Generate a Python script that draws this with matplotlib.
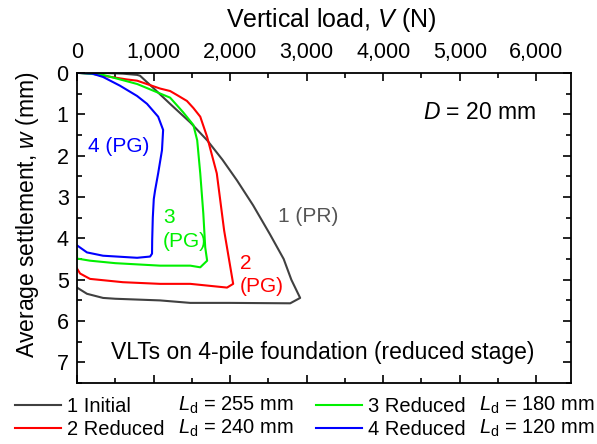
import matplotlib
matplotlib.use("Agg")
import matplotlib.pyplot as plt
from matplotlib.ticker import MultipleLocator, FuncFormatter

plt.rcParams['font.family'] = ['Liberation Sans', 'DejaVu Sans']
plt.rcParams['mathtext.fontset'] = 'custom'
plt.rcParams['mathtext.rm'] = 'Liberation Sans'
plt.rcParams['mathtext.it'] = 'Liberation Sans:italic'

# load-settlement loops (V in N, w in mm)
v_initial = [0, 300, 600, 785, 823, 993, 1216, 1480, 1700, 1900, 2090, 2300, 2520, 2700, 2800, 2915,
             2785, 2000, 1480, 1085, 500, 340, 130, 0]
w_initial = [0, 0, 0.02, 0.05, 0.07, 0.36, 0.75, 1.2, 1.63, 2.1, 2.6, 3.2, 3.9, 4.5, 5.0, 5.44,
             5.57, 5.56, 5.56, 5.5, 5.46, 5.44, 5.34, 5.19]

v_red240 = [0, 200, 340, 650, 785, 1085, 1216, 1300, 1436, 1520, 1610, 1700, 1826, 1922, 2040,
            1960, 1480, 1085, 600, 170, 40, 0]
w_red240 = [0, 0.02, 0.07, 0.16, 0.19, 0.38, 0.44, 0.53, 0.68, 0.85, 1.06, 1.55, 2.43, 3.81, 5.1,
            5.19, 5.1, 5.1, 5.06, 4.98, 4.85, 4.73]

v_red180 = [0, 340, 785, 1216, 1385, 1520, 1570, 1610, 1650, 1675, 1700,
            1610, 1480, 1085, 500, 170, 40, 0, 0]
w_red180 = [0, 0.05, 0.27, 0.6, 0.95, 1.26, 1.63, 2.43, 3.4, 4.22, 4.54,
            4.7, 4.66, 4.66, 4.6, 4.54, 4.5, 4.49, 4.3]

v_red120 = [0, 200, 340, 560, 785, 915, 1060, 1125, 1110, 1060, 1020, 1003, 990, 982, 980,
            955, 785, 340, 130, 0]
w_red120 = [0, 0.02, 0.1, 0.31, 0.56, 0.75, 1.06, 1.38, 1.87, 2.43, 2.84, 3.05, 3.5, 4.05, 4.37,
            4.44, 4.47, 4.42, 4.34, 4.17]

names = ['1 Initial', '2 Reduced', '3 Reduced', '4 Reduced']
lengths = [255, 240, 180, 120]
colors = ['#404040', '#ff0000', '#00f000', '#0000ff']

fig = plt.figure(figsize=(5.97, 4.44), dpi=100)
ax = fig.add_axes([0.129, 0.137, 0.827, 0.699])

series = [(v_initial, w_initial), (v_red240, w_red240), (v_red180, w_red180), (v_red120, w_red120)]
lines = []
for (v, w), c, n in zip(series, colors, names):
    ln, = ax.plot(v, w, color=c, lw=1.5, label=n)
    lines.append(ln)

ax.set_xlim(0, 6450)
ax.set_ylim(7.5, 0)
ax.xaxis.set_ticks_position('top')
ax.xaxis.set_label_position('top')
ax.xaxis.set_major_locator(MultipleLocator(1000))
ax.xaxis.set_minor_locator(MultipleLocator(500))
ax.yaxis.set_major_locator(MultipleLocator(1))
ax.yaxis.set_minor_locator(MultipleLocator(0.5))
ax.xaxis.set_major_formatter(FuncFormatter(lambda x, p: f"{int(x):,}"))
ax.set_yticks(range(0, 8))
ax.tick_params(which='both', direction='in', top=True, bottom=True, left=True, right=True,
               labelsize=15.5, width=1.2)
ax.tick_params(which='major', length=6)
ax.tick_params(which='minor', length=3.5)
ax.tick_params(axis='x', pad=7)
ax.tick_params(axis='y', pad=6)
for s in ax.spines.values():
    s.set_linewidth(1.3)

ax.set_xlabel('Vertical load, $\\it{V}$ (N)', fontsize=18)
ax.set_ylabel('Average settlement, $\\it{w}$ (mm)', fontsize=16.5)
ax.xaxis.set_label_coords(0.514, 1.171)
ax.xaxis.label.set_va('center')
ax.yaxis.set_label_coords(-0.101, 0.542)
ax.yaxis.label.set_va('center')

ax.text(6000, 0.97, '$\\it{D}$ = 20 mm', ha='right', va='center', fontsize=16.5)
ax.text(3216, 6.77, 'VLTs on 4-pile foundation (reduced stage)', ha='center', va='center', fontsize=16.5)
ax.text(2630, 3.47, '1 (PR)', color='#555555', ha='left', va='center', fontsize=15)
ax.text(2130, 4.89, '2\n(PG)', color='#ff0000', ha='left', va='center', fontsize=15, linespacing=1.25)
ax.text(1124, 3.79, '3\n(PG)', color='#00f000', ha='left', va='center', fontsize=15, linespacing=1.35)
ax.text(144, 1.77, '4 (PG)', color='#0000ff', ha='left', va='center', fontsize=15)

fig.legend(lines, names, loc='upper left', bbox_to_anchor=(0.025, 0.106), ncol=2, frameon=False,
           fontsize=14.5, handlelength=2.3, handletextpad=0.3, columnspacing=7.5,
           labelspacing=0.22, borderaxespad=0, borderpad=0)
ld_x = [0.298, 0.298, 0.802, 0.802]
ld_y = [0.088, 0.036, 0.088, 0.036]
for x, y, L in zip(ld_x, ld_y, lengths):
    fig.text(x, y, f'$\\it{{L}}_\\mathrm{{d}}$ = {L} mm', fontsize=14.5, ha='left', va='center')

fig.savefig('out.png', dpi=100)
